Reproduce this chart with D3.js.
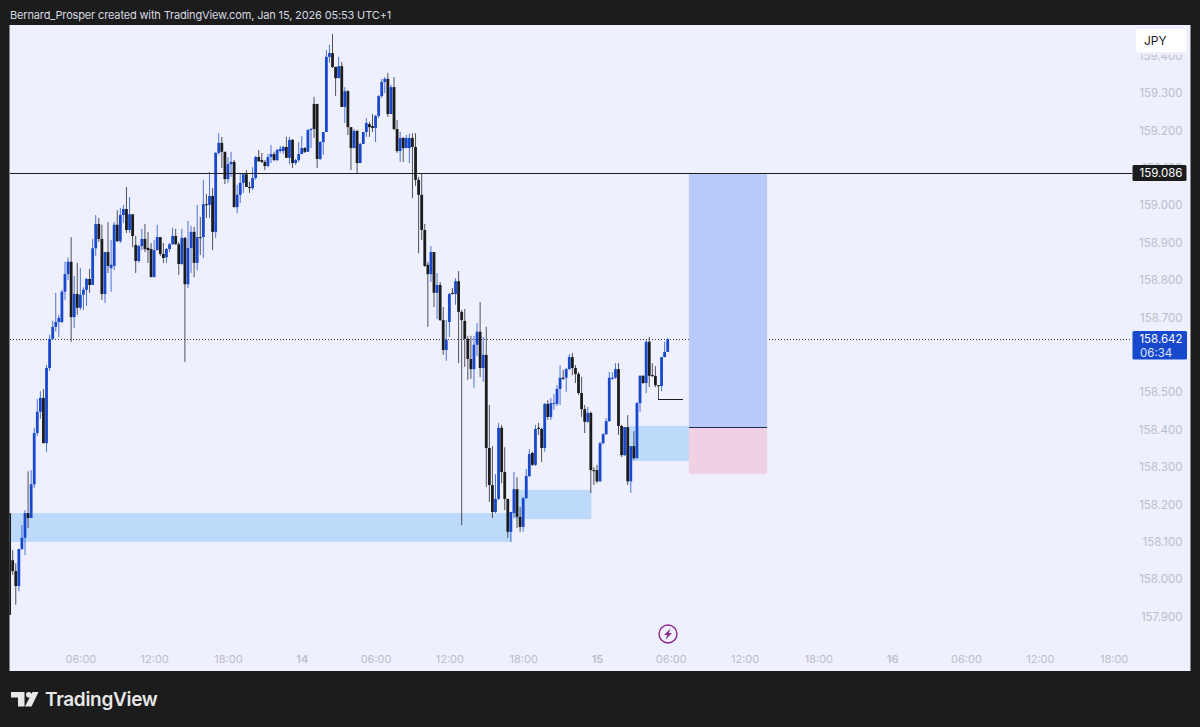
<!DOCTYPE html>
<html>
<head>
<meta charset="utf-8">
<title>JPY chart</title>
<script src="https://cdn.jsdelivr.net/npm/d3@7"></script>
<style>
html, body { margin: 0; padding: 0; background: #1c1c1c; }
svg { display: block; }
text { font-family: Inter, "Noto Sans", sans-serif; }
</style>
</head>
<body>
<div id="chart"></div>
<script>
// 15 minute candles, index 0 is Jan 13 00:30, index 94 is Jan 14 00:00
var firstIndex = -1;

var opens = [158.177,
158.051,158.022,157.982,158.081,158.111,158.177,158.164,158.254,158.391,158.448,
158.485,158.364,158.565,158.643,158.675,158.688,158.688,158.769,158.816,158.849,
158.701,158.763,158.726,158.761,158.774,158.803,158.787,158.885,158.950,158.910,
158.763,158.875,158.832,158.838,158.948,158.904,158.974,158.990,158.934,158.976,
158.894,158.851,158.891,158.910,158.886,158.883,158.808,158.880,158.915,158.870,
158.861,158.883,158.896,158.918,158.896,158.843,158.913,158.789,158.886,158.929,
158.846,158.915,158.915,159.003,159.001,159.025,158.929,159.140,159.167,159.143,
159.070,159.110,159.116,158.995,159.028,159.060,159.083,159.049,159.046,159.073,
159.129,159.121,159.116,159.105,159.129,159.137,159.121,159.145,159.145,159.156,
159.127,159.175,159.113,159.121,159.137,159.153,159.143,159.201,159.271,159.271,
159.124,159.169,159.196,159.397,159.407,159.370,159.340,159.372,159.263,159.305,
159.209,159.153,159.199,159.113,159.164,159.196,159.217,159.212,159.207,159.239,
159.292,159.330,159.338,159.244,159.316,159.204,159.145,159.180,159.153,159.153,
159.180,159.156,159.068,159.028,158.934,158.841,158.816,158.875,158.766,158.787,
158.693,158.613,158.688,158.766,158.763,158.797,158.715,158.691,158.643,158.589,
158.562,158.627,158.662,158.565,158.600,158.351,158.252,158.180,158.215,158.405,
158.287,158.215,158.127,158.177,158.241,158.167,158.140,158.217,158.276,158.338,
158.306,158.405,158.402,158.351,158.469,158.434,158.469,158.469,158.509,158.539,
158.539,158.562,158.594,158.565,158.549,158.498,158.455,158.421,158.445,158.292,
158.292,158.262,158.364,158.388,158.423,158.536,158.539,158.562,158.410,158.332,
158.407,158.262,158.356,158.324,158.471,158.544,158.525,158.635,158.546,158.544,
158.519,158.517,158.594,158.608];

var highs = [158.177,
158.078,158.043,158.081,158.145,158.185,158.289,158.292,158.405,158.482,158.503,
158.509,158.573,158.654,158.691,158.766,158.707,158.774,158.849,158.861,158.915,
158.811,158.846,158.832,158.781,158.805,158.830,158.910,158.974,158.966,158.948,
158.875,158.955,158.907,158.955,158.987,158.993,159.001,159.049,159.022,158.976,
158.918,158.894,158.937,158.950,158.929,158.899,158.907,158.948,158.915,158.899,
158.886,158.899,158.940,158.937,158.902,158.937,158.915,158.958,158.945,158.942,
159.001,158.969,159.068,159.030,159.089,159.046,159.143,159.193,159.183,159.143,
159.129,159.143,159.121,159.055,159.086,159.086,159.094,159.063,159.102,159.132,
159.148,159.140,159.121,159.137,159.161,159.143,159.151,159.159,159.159,159.183,
159.183,159.177,159.124,159.169,159.185,159.156,159.204,159.207,159.290,159.271,
159.172,159.196,159.415,159.429,159.458,159.370,159.397,159.383,159.316,159.308,
159.209,159.204,159.201,159.167,159.196,159.233,159.223,159.244,159.241,159.295,
159.338,159.343,159.354,159.322,159.343,159.228,159.196,159.183,159.188,159.191,
159.193,159.193,159.076,159.086,158.950,158.849,158.891,158.875,158.819,158.795,
158.728,158.693,158.766,158.779,158.805,158.824,158.720,158.723,158.651,158.651,
158.651,158.685,158.741,158.648,158.675,158.466,158.356,158.281,158.418,158.413,
158.353,158.215,158.180,158.287,158.273,158.193,158.220,158.295,158.348,158.341,
158.413,158.418,158.405,158.471,158.479,158.485,158.495,158.519,158.573,158.560,
158.565,158.602,158.605,158.573,158.554,158.541,158.466,158.461,158.448,158.300,
158.306,158.367,158.391,158.431,158.554,158.554,158.578,158.578,158.413,158.407,
158.439,158.356,158.396,158.474,158.546,158.546,158.640,158.648,158.578,158.570,
158.519,158.594,158.635,158.645];

var lows = [157.905,
158.012,157.932,157.968,158.078,158.065,158.137,158.164,158.244,158.383,158.429,
158.364,158.341,158.557,158.643,158.662,158.648,158.685,158.747,158.800,158.635,
158.672,158.707,158.720,158.720,158.731,158.766,158.787,158.864,158.902,158.747,
158.739,158.819,158.769,158.827,158.902,158.899,158.953,158.926,158.926,158.888,
158.819,158.846,158.880,158.875,158.846,158.808,158.808,158.880,158.864,158.846,
158.846,158.875,158.894,158.894,158.814,158.841,158.581,158.779,158.819,158.808,
158.827,158.867,158.859,158.966,158.966,158.880,158.913,159.135,159.100,159.057,
159.060,159.076,158.995,158.979,159.006,159.033,159.049,159.033,159.041,159.068,
159.116,159.113,159.094,159.102,159.113,159.118,159.118,159.140,159.137,159.127,
159.110,159.100,159.108,159.116,159.137,159.140,159.143,159.153,159.180,159.100,
159.121,159.135,159.196,159.381,159.367,159.292,159.340,159.263,159.220,159.188,
159.094,159.153,159.086,159.113,159.164,159.183,159.183,159.196,159.169,159.233,
159.287,159.300,159.236,159.244,159.201,159.140,159.116,159.116,159.153,159.113,
159.019,159.052,158.872,158.907,158.835,158.675,158.795,158.728,158.696,158.691,
158.600,158.584,158.648,158.761,158.734,158.578,158.145,158.568,158.533,158.536,
158.512,158.597,158.541,158.528,158.247,158.207,158.164,158.177,158.212,158.257,
158.185,158.111,158.100,158.164,158.137,158.127,158.127,158.215,158.273,158.303,
158.303,158.386,158.314,158.341,158.426,158.426,158.453,158.463,158.466,158.533,
158.501,158.560,158.546,158.525,158.493,158.434,158.391,158.418,158.231,158.252,
158.257,158.260,158.361,158.386,158.421,158.533,158.536,158.386,158.327,158.330,
158.252,158.231,158.319,158.322,158.448,158.522,158.498,158.514,158.541,158.514,
158.482,158.503,158.594,158.608];

var closes = [157.905,
158.022,157.982,158.081,158.111,158.177,158.164,158.254,158.391,158.448,158.485,
158.364,158.565,158.643,158.675,158.688,158.699,158.769,158.816,158.849,158.701,
158.763,158.726,158.761,158.774,158.803,158.787,158.885,158.950,158.910,158.763,
158.875,158.838,158.841,158.948,158.904,158.974,158.990,158.934,158.976,158.918,
158.851,158.891,158.910,158.883,158.880,158.808,158.880,158.915,158.870,158.859,
158.883,158.896,158.918,158.896,158.843,158.913,158.789,158.886,158.929,158.846,
158.915,158.913,159.003,159.001,159.025,158.929,159.140,159.167,159.143,159.070,
159.110,159.116,158.995,159.028,159.060,159.083,159.049,159.046,159.073,159.129,
159.118,159.116,159.105,159.129,159.137,159.121,159.148,159.151,159.156,159.127,
159.175,159.113,159.121,159.137,159.153,159.143,159.201,159.204,159.204,159.124,
159.169,159.196,159.397,159.407,159.370,159.340,159.372,159.263,159.305,159.209,
159.153,159.199,159.113,159.164,159.196,159.220,159.209,159.207,159.239,159.292,
159.330,159.338,159.244,159.316,159.204,159.145,159.180,159.153,159.180,159.180,
159.156,159.068,159.028,158.934,158.838,158.816,158.875,158.766,158.787,158.693,
158.613,158.640,158.763,158.763,158.797,158.715,158.693,158.643,158.589,158.562,
158.627,158.662,158.565,158.600,158.351,158.252,158.180,158.215,158.405,158.287,
158.215,158.127,158.180,158.241,158.167,158.140,158.217,158.276,158.335,158.306,
158.402,158.402,158.351,158.469,158.434,158.471,158.471,158.509,158.539,158.536,
158.562,158.594,158.565,158.549,158.498,158.455,158.421,158.445,158.292,158.289,
158.262,158.364,158.388,158.423,158.539,158.539,158.562,158.410,158.332,158.407,
158.262,158.356,158.324,158.471,158.544,158.525,158.635,158.544,158.544,158.519,
158.517,158.594,158.608,158.642];

// axis labels (158.600 sits behind the last price tag in the reference)
var priceTicks = [159.4,159.3,159.2,159.1,159.0,158.9,158.8,158.7,158.5,158.4,158.3,158.2,158.1,158.0,157.9];
var timeTicks  = [22,46,70,94,118,142,166,190,214,238,262,286,310,334,358];
var timeLabels = ["06:00","12:00","18:00","14","06:00","12:00","18:00","15","06:00","12:00","18:00","16","06:00","12:00","18:00"];

// demand zones and the long position box (start/end as candle index, top/bottom as price)
var zoneStart  = [-1.2, 163, 200.5];
var zoneEnd    = [162.3, 188.2, 219.9];
var zoneTop    = [158.177, 158.239, 158.410];
var zoneBottom = [158.100, 158.161, 158.316];

var boxStart = 219.9, boxEnd = 245.3;
var entryPrice = 158.407, targetPrice = 159.086, stopPrice = 158.282;
var lastPrice = 158.642;
var wickLevel = 158.482, wickStart = 210, wickEnd = 218;

var width = 1200, height = 727;
var plot = { left: 9.5, top: 25, right: 1190.5, bottom: 671 };

var x = d3.scaleLinear().domain([0, 358]).range([12.7, 1113.6]);
var y = d3.scaleLinear().domain([157.9, 159.4]).range([616.7, 55.7]);

var svg = d3.select("#chart").append("svg")
  .attr("width", width)
  .attr("height", height);

svg.append("rect").attr("width", width).attr("height", height).attr("fill", "#1c1c1c");

svg.append("text")
  .attr("x", 10).attr("y", 19)
  .attr("fill", "#d8dae0")
  .style("font-size", "11px")
  .style("letter-spacing", "-0.15px")
  .text("Bernard_Prosper created with TradingView.com, Jan 15, 2026 05:53 UTC+1");

svg.append("rect")
  .attr("x", plot.left).attr("y", plot.top)
  .attr("width", plot.right - plot.left).attr("height", plot.bottom - plot.top)
  .attr("fill", "#eef0fe");

svg.append("clipPath").attr("id", "plotClip").append("rect")
  .attr("x", plot.left).attr("y", plot.top)
  .attr("width", plot.right - plot.left).attr("height", plot.bottom - plot.top);

//price axis
var yAxis = svg.append("g")
  .attr("transform", "translate(1182.5,0)")
  .call(d3.axisLeft(y).tickValues(priceTicks).tickSize(0).tickPadding(0).tickFormat(d3.format(".3f")));
yAxis.select(".domain").remove();
yAxis.selectAll("text").attr("fill", "#bcbeca").style("font-size", "11.5px");

//time axis
var xAxis = svg.append("g")
  .attr("transform", "translate(0,659.5)")
  .call(d3.axisBottom(x).tickValues(timeTicks).tickSize(0).tickPadding(0).tickFormat((d, i) => timeLabels[i]));
xAxis.select(".domain").remove();
xAxis.selectAll("text")
  .attr("fill", "#bcbeca")
  .attr("y", 0)
  .attr("dy", "0.32em")
  .style("font-size", "11px")
  .style("font-weight", (d, i) => timeLabels[i].length == 2 ? "600" : "400");

var chart = svg.append("g").attr("clip-path", "url(#plotClip)");

//last price line goes under the position box
chart.append("line")
  .attr("x1", plot.left).attr("x2", 1132)
  .attr("y1", y(lastPrice)).attr("y2", y(lastPrice))
  .attr("stroke", "#3a3c50").attr("stroke-width", 1).attr("stroke-dasharray", "1,2")
  .style("shape-rendering", "crispEdges");

chart.selectAll("rect.zone")
  .data(d3.range(zoneStart.length))
  .enter().append("rect")
  .attr("class", "zone")
  .attr("x", i => x(zoneStart[i]))
  .attr("y", i => y(zoneTop[i]))
  .attr("width", i => x(zoneEnd[i]) - x(zoneStart[i]))
  .attr("height", i => y(zoneBottom[i]) - y(zoneTop[i]))
  .attr("fill", "#bddafb");

// position box
chart.append("rect")
  .attr("x", x(boxStart)).attr("y", y(targetPrice))
  .attr("width", x(boxEnd) - x(boxStart)).attr("height", y(entryPrice) - y(targetPrice))
  .attr("fill", "#b9cbfd");
chart.append("rect")
  .attr("x", x(boxStart)).attr("y", y(entryPrice))
  .attr("width", x(boxEnd) - x(boxStart)).attr("height", y(stopPrice) - y(entryPrice))
  .attr("fill", "#f0d0e3");
chart.append("line")
  .attr("x1", x(boxStart)).attr("x2", x(boxEnd))
  .attr("y1", y(entryPrice)).attr("y2", y(entryPrice))
  .attr("stroke", "#1f2a4d").attr("stroke-width", 1)
  .style("shape-rendering", "crispEdges");

//candles
var candleColor = i => closes[i] >= opens[i] ? "#1848cc" : "#1c1c1c";
var candles = chart.selectAll("g.candle")
  .data(d3.range(opens.length))
  .enter().append("g")
  .attr("class", "candle");

candles.append("line")
  .attr("x1", i => x(firstIndex + i)).attr("x2", i => x(firstIndex + i))
  .attr("y1", i => y(highs[i])).attr("y2", i => y(lows[i]))
  .attr("stroke", candleColor).attr("stroke-width", 1).attr("stroke-opacity", 0.75);

candles.append("rect")
  .attr("x", i => x(firstIndex + i) - 1.4)
  .attr("width", 2.8)
  .attr("y", i => y(Math.max(opens[i], closes[i])))
  .attr("height", i => Math.max(1, Math.abs(y(opens[i]) - y(closes[i]))))
  .attr("fill", candleColor);

//horizontal drawing lines on top of the candles
chart.append("line")
  .attr("x1", plot.left).attr("x2", 1132)
  .attr("y1", y(targetPrice)).attr("y2", y(targetPrice))
  .attr("stroke", "#1c1c1c").attr("stroke-width", 1)
  .style("shape-rendering", "crispEdges");
chart.append("line")
  .attr("x1", x(wickStart)).attr("x2", x(wickEnd))
  .attr("y1", y(wickLevel)).attr("y2", y(wickLevel))
  .attr("stroke", "#1c1c1c").attr("stroke-width", 1)
  .style("shape-rendering", "crispEdges");

//price tags
svg.append("rect")
  .attr("x", 1136).attr("y", 50).attr("width", 50.5).attr("height", 4.5)
  .attr("fill", "#eef0fe");
svg.append("rect")
  .attr("x", 1136).attr("y", 29).attr("width", 50.5).attr("height", 23).attr("rx", 3)
  .attr("fill", "#ffffff");
svg.append("text").attr("x", 1144).attr("y", 45)
  .attr("fill", "#1c1c1c").style("font-size", "12px").text("JPY");

svg.append("rect")
  .attr("x", 1132.5).attr("y", 165).attr("width", 54).attr("height", 16).attr("rx", 1.5)
  .attr("fill", "#1c1c1c");
svg.append("text").attr("x", 1182.5).attr("y", y(targetPrice)).attr("dy", "0.35em")
  .attr("text-anchor", "end").attr("fill", "#ffffff").style("font-size", "11.5px")
  .text(d3.format(".3f")(targetPrice));

svg.append("rect")
  .attr("x", 1132.5).attr("y", 331).attr("width", 54.5).attr("height", 28.5).attr("rx", 1.5)
  .attr("fill", "#1848cc");
svg.append("text").attr("x", 1182.5).attr("y", y(lastPrice)).attr("dy", "0.35em")
  .attr("text-anchor", "end").attr("fill", "#ffffff").style("font-size", "11.5px")
  .text(d3.format(".3f")(lastPrice));
svg.append("text").attr("x", 1140).attr("y", 352.5).attr("dy", "0.35em")
  .attr("fill", "#dfe5fa").style("font-size", "11.5px")
  .text("06:34");

//lightning mark on the time axis
var bolt = svg.append("g").attr("transform", "translate(668,634)");
bolt.append("circle").attr("r", 9).attr("fill", "none").attr("stroke", "#8a2a8c").attr("stroke-width", 1.4);
bolt.append("path").attr("d", "M2.5,-5.5 L-4,1 L-0.8,1 L-2.5,5.5 L4,-1 L0.8,-1 Z").attr("fill", "#8a2a8c");

//TradingView logo
var logo = svg.append("g").attr("fill", "#e8e8e8");
logo.append("path").attr("d", "M11,692 H24.5 V706.5 H18 V697.5 H11 Z");
logo.append("circle").attr("cx", 28.8).attr("cy", 694.8).attr("r", 2.8);
logo.append("path").attr("d", "M32.5,692 H38.5 L31.5,706.5 H25 Z");
svg.append("text").attr("x", 45).attr("y", 706)
  .attr("fill", "#e8e8e8")
  .style("font-size", "19px").style("font-weight", "600").style("letter-spacing", "-0.3px")
  .text("TradingView");
</script>
</body>
</html>
